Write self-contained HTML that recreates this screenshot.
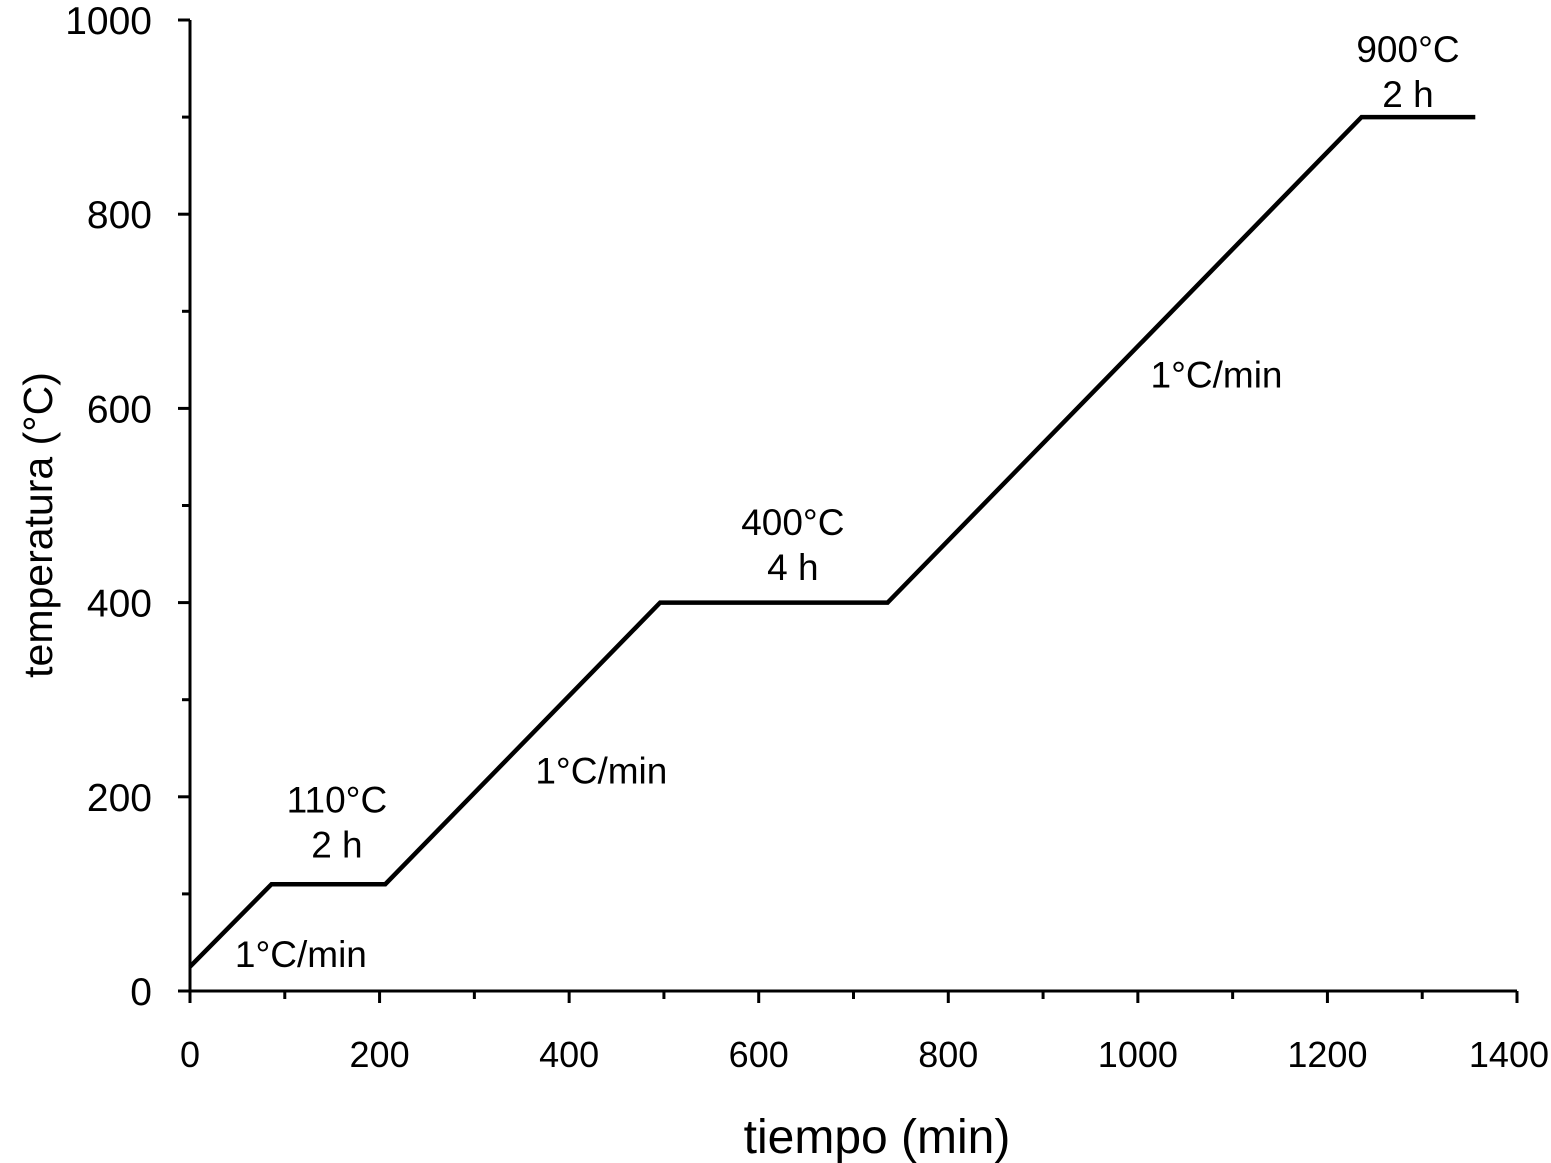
<!DOCTYPE html>
<html><head><meta charset="utf-8"><style>
html,body{margin:0;padding:0;background:#fff;}
svg{display:block;font-family:"Liberation Sans",Arial,sans-serif;}
</style></head><body>
<svg id="chart" width="1551" height="1163" viewBox="0 0 1551 1163" xmlns="http://www.w3.org/2000/svg">
<g id="axes"></g><g id="series"></g><g id="notes"></g>
</svg>
<script>
const timeValues = [0, 86, 206, 496, 736, 1236, 1356];
const tempValues = [25, 110, 110, 400, 400, 900, 900];
const xTicks = [0, 200, 400, 600, 800, 1000, 1200, 1400];
const yTicks = [0, 200, 400, 600, 800, 1000];
const annotations = [
  {t: 117, v: 38, lines: ["1°C/min"]},
  {t: 155, v: 197, lines: ["110°C", "2 h"]},
  {t: 434, v: 227, lines: ["1°C/min"]},
  {t: 636, v: 483, lines: ["400°C", "4 h"]},
  {t: 1083, v: 635, lines: ["1°C/min"]},
  {t: 1285, v: 970, lines: ["900°C", "2 h"]}
];
const NS = "http://www.w3.org/2000/svg";
const X0 = 190, X1 = 1517, Y0 = 991, Y1 = 20;
const xs = t => X0 + (t / 1400) * (X1 - X0);
const ys = v => Y0 - (v / 1000) * (Y0 - Y1);
function mk(tag, attrs, parent) {
  const e = document.createElementNS(NS, tag);
  for (const k in attrs) e.setAttribute(k, attrs[k]);
  parent.appendChild(e);
  return e;
}
const axes = document.getElementById('axes');
const xa = mk('line', {x1: X0, y1: Y0, x2: X1, y2: Y0, stroke: '#000', 'stroke-width': 3}, axes);


const ya = mk('line', {x1: X0, y1: Y0 + 1, x2: X0, y2: Y1, stroke: '#000', 'stroke-width': 3}, axes);


for (let t = 0; t <= 1400; t += 100) {
  const tk = mk('line', {x1: xs(t), y1: Y0, x2: xs(t), y2: Y0 + (t % 200 === 0 ? 12 : 8), stroke: '#000', 'stroke-width': 3}, axes);
  
  
}
for (let v = 0; v <= 1000; v += 100) {
  const tk = mk('line', {x1: X0 - (v % 200 === 0 ? 12 : 8), y1: ys(v), x2: X0, y2: ys(v), stroke: '#000', 'stroke-width': 3}, axes);
  
  
}
xTicks.forEach((t, i) => {
  const last = i === xTicks.length - 1;
  const l = mk('text', {x: last ? 1549 : xs(t), y: 1067, 'font-size': 36, 'text-anchor': last ? 'end' : 'middle'}, axes);
  l.textContent = t;
  
  
});
yTicks.forEach(v => {
  const l = mk('text', {x: 152, y: ys(v) + 14, 'font-size': 39, 'text-anchor': 'end'}, axes);
  l.textContent = v;
  
  
});
const xt = mk('text', {x: 877, y: 1153, 'font-size': 48, 'text-anchor': 'middle'}, axes);
xt.textContent = 'tiempo (min)';


const yt = mk('text', {x: 0, y: 0, 'font-size': 41, 'text-anchor': 'middle', transform: 'translate(52,525) rotate(-90)'}, axes);
yt.textContent = 'temperatura (°C)';


const pts = timeValues.map((t, i) => xs(t) + ',' + ys(tempValues[i])).join(' ');
const line = mk('polyline', {points: pts, fill: 'none', stroke: '#000', 'stroke-width': 4.5, 'stroke-linejoin': 'miter'}, document.getElementById('series'));


const notes = document.getElementById('notes');
annotations.forEach(a => {
  a.lines.forEach((s, i) => {
    const tx = mk('text', {x: xs(a.t), y: ys(a.v) + 13 + i * 45, 'font-size': 37, 'text-anchor': 'middle'}, notes);
    tx.textContent = s;
    
    
  });
});
</script>
</body></html>
